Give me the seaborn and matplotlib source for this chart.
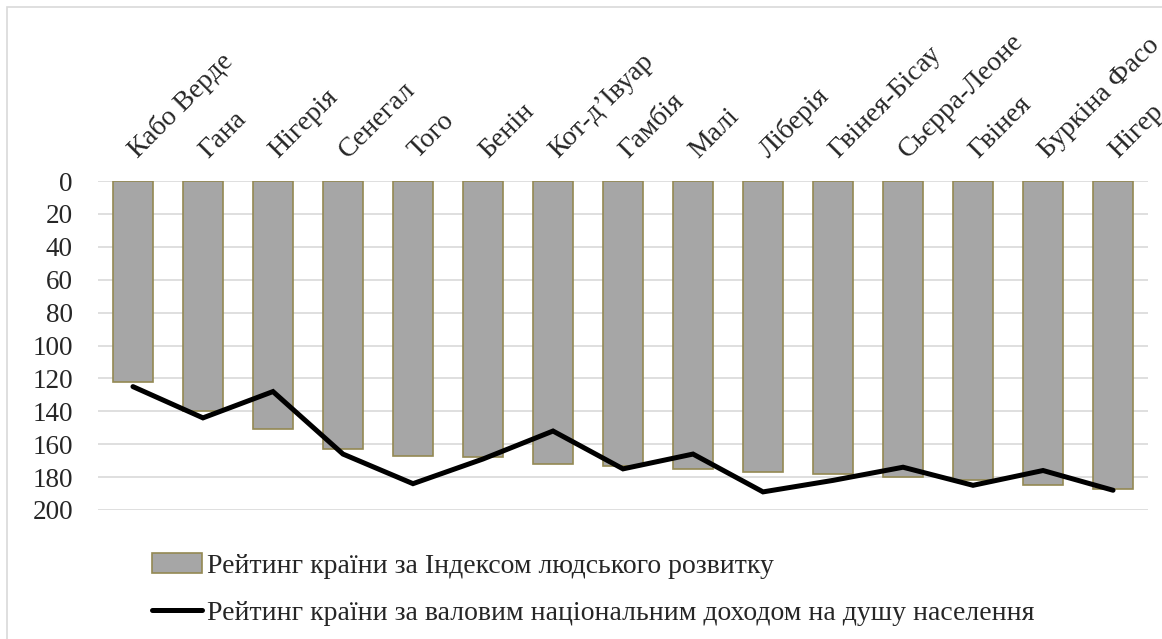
import numpy as np
import pandas as pd
import seaborn as sns
import matplotlib.pyplot as plt
import matplotlib.transforms as mtransforms
from matplotlib.patches import Patch
from matplotlib.lines import Line2D

# ----------------------------------------------------------------
# Data
# ----------------------------------------------------------------
countries = ['Кабо Верде', 'Гана', 'Нігерія', 'Сенегал', 'Того', 'Бенін',
             'Кот-д’Івуар', 'Гамбія', 'Малі', 'Ліберія', 'Гвінея-Бісау',
             'Сьєрра-Леоне', 'Гвінея', 'Буркіна Фасо', 'Нігер']
hdi_rank = [122, 140, 151, 163, 167, 168, 172, 173, 175, 177, 178, 180, 182, 185, 187]
gni_rank = [125, 144, 128, 166, 184, 169, 152, 175, 166, 189, 182, 174, 185, 176, 188]
y_ticks = [0, 20, 40, 60, 80, 100, 120, 140, 160, 180, 200]

label_hdi = 'Рейтинг країни за Індексом людського розвитку'
label_gni = 'Рейтинг країни за валовим національним доходом на душу населення'

df = pd.DataFrame({'country': countries, 'hdi': hdi_rank, 'gni': gni_rank})

# ----------------------------------------------------------------
# Style
# ----------------------------------------------------------------
sns.set_style('white')
plt.rcParams['font.family'] = ['Liberation Serif', 'DejaVu Serif']
plt.rcParams['font.size'] = 20

fig = plt.figure(figsize=(11.62, 6.39), dpi=100)
ax = fig.add_axes([0.0843, 0.2019, 0.9037, 0.5148])

# bars (HDI rank)
sns.barplot(data=df, x='country', y='hdi', color='#A6A6A6', saturation=1,
            width=0.58, edgecolor='#938953', linewidth=1.2, ax=ax, zorder=2)

# line (GNI rank)
sns.lineplot(x=np.arange(len(df)), y=df['gni'], color='black', linewidth=3.6,
             ax=ax, zorder=3, solid_capstyle='round', solid_joinstyle='miter')

ax.set_xlim(-0.5, len(countries) - 0.5)
ax.set_ylim(200, 0)
ax.set_yticks(y_ticks)
ax.yaxis.grid(True, color='#D9D9D9', linewidth=1.2, zorder=0)
ax.set_axisbelow(True)
for s in ax.spines.values():
    s.set_visible(False)

ax.xaxis.tick_top()
ax.set_xticks(range(len(countries)))
ax.set_xticklabels(countries, rotation=45, ha='left', va='baseline',
                   rotation_mode='anchor', fontsize=20)
ax.tick_params(axis='x', length=0, pad=16)
ax.tick_params(axis='y', length=0, pad=18, labelsize=19.5)
ax.set_xlabel('')
ax.set_ylabel('')

# nudge the slanted labels a little to the right
shift = mtransforms.ScaledTranslation(5 / 100, 0, fig.dpi_scale_trans)
for lbl in ax.get_xticklabels():
    lbl.set_transform(lbl.get_transform() + shift)

# legend below the chart
handles = [Patch(facecolor='#A6A6A6', edgecolor='#938953', linewidth=1.2),
           Line2D([0], [0], color='black', linewidth=3.6, solid_capstyle='round')]
fig.legend(handles, [label_hdi, label_gni], loc='upper left',
           bbox_to_anchor=(0.131, 0.134), frameon=False, borderpad=0,
           borderaxespad=0, handlelength=1.8, handletextpad=0.18,
           labelspacing=0.78, fontsize=20)

# outer chart border
fig.add_artist(plt.Rectangle((0.006, -0.01), 1.0, 0.999, transform=fig.transFigure,
                             fill=False, edgecolor='#D9D9D9', linewidth=1.2))

fig.savefig('out.png', dpi=100)
